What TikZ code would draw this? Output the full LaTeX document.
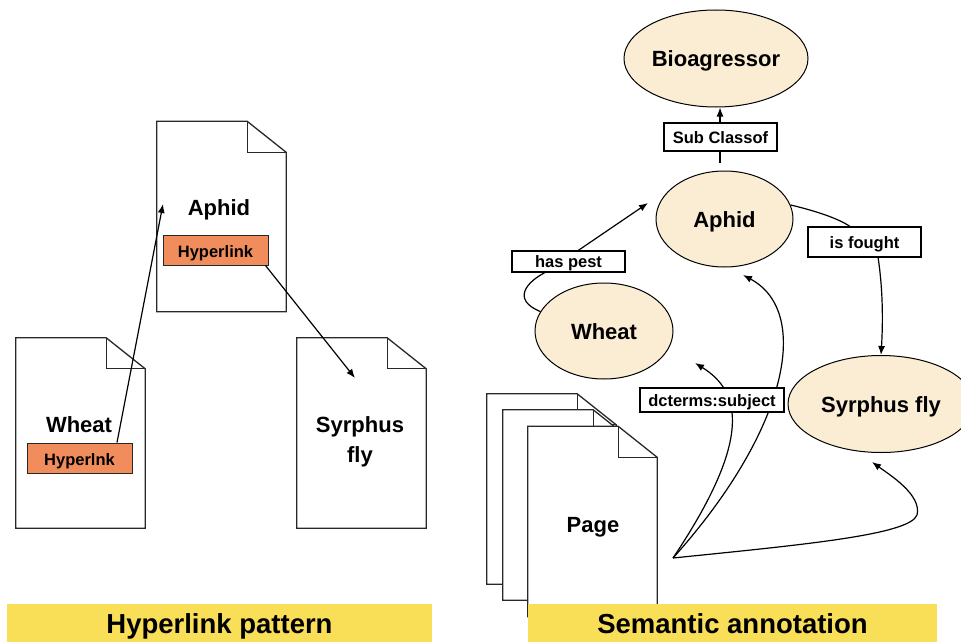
\documentclass[tikz,border=0pt]{standalone}
\usepackage{fontspec}
\setmainfont{Liberation Sans}
\usetikzlibrary{arrows.meta,calc,shapes.geometric}
\definecolor{linkorange}{RGB}{241,140,92}
\definecolor{baryellow}{RGB}{249,222,87}
\definecolor{conceptfill}{RGB}{250,237,212}
\definecolor{docgray}{RGB}{40,40,40}
\newcommand\docoutline[1]{%
  \draw[docline,fill=white] (#1.north west) -- ($(#1.north east)+(-39,0)$) -- ($(#1.north east)+(0,31)$) -- (#1.south east) -- (#1.south west) -- cycle;
  \draw[docline] ($(#1.north east)+(-39,0)$) -- ($(#1.north east)+(-39,31)$) -- ($(#1.north east)+(0,31)$);}
\tikzset{
  docline/.style={draw=docgray,line width=1.3pt},
  docnode/.style={draw=none,inner sep=0pt,minimum width=129pt,minimum height=190pt},
  doctext/.style={anchor=base,font=\fontsize{22}{26}\selectfont\bfseries,align=center},
  linkbox/.style={draw=docgray,line width=1pt,fill=linkorange,inner sep=0pt,minimum width=105pt,minimum height=30pt,font=\fontsize{16.5}{19}\selectfont\bfseries,text height=16pt,text depth=2pt},
  concept/.style={ellipse,draw=black,line width=1pt,fill=conceptfill,inner sep=0pt,font=\fontsize{22}{26}\selectfont\bfseries,text height=18pt,text depth=2pt},
  relbox/.style={draw=black,line width=1.2pt,fill=white,inner sep=0pt,minimum height=24pt,font=\fontsize{16.5}{19}\selectfont\bfseries,text height=14pt,text depth=2pt},
  conn/.style={draw=black,line width=1.2pt,-{Latex[length=9pt,width=7pt]}},
  barbox/.style={fill=baryellow,draw=none,inner sep=0pt,minimum height=38pt,font=\fontsize{27.5}{32}\selectfont\bfseries,text height=22pt,text depth=2pt},
}
\begin{document}
\begin{tikzpicture}[x=1pt,y=-1pt]
\useasboundingbox (0,0) rectangle (961,642);
% ---------------- left: hyperlink pattern ----------------
\node[docnode] (aphidDoc) at (221.5,216.5) {};
\docoutline{aphidDoc}
\node[docnode] (wheatDoc) at (80.5,433) {};
\docoutline{wheatDoc}
\node[docnode] (syrphusDoc) at (361.5,433) {};
\docoutline{syrphusDoc}
\node[doctext] (aphidTxt) at (219,215) {Aphid};
\node[doctext] (wheatTxt) at (79,432) {Wheat};
\node[doctext] (syrphusTxt) at (360,432) {Syrphus};
\node[doctext] (flyTxt) at (360,462) {fly};
\node[linkbox] (linkA) at (215.5,250) {Hyperlink};
\node[linkbox] (linkW) at (79.5,458) {Hyperlnk};
\coordinate (tipA) at (163,204);
\coordinate (tipS) at (355,378);
\draw[conn] ([xshift=37.5]linkW.north) -- (tipA);
\draw[conn] ([xshift=-3]linkA.south east) -- (tipS);
\node[barbox,minimum width=425pt] (barL) at (219.5,623) {Hyperlink pattern};
% ---------------- right: semantic annotation ----------------
\node[concept,minimum width=184pt,minimum height=97pt] (bio) at (716,58.5) {Bioagressor};
\node[concept,minimum width=137pt,minimum height=96pt] (aphid) at (724.5,219) {Aphid};
\node[concept,minimum width=138pt,minimum height=96pt] (wheat) at (604,331) {Wheat};
\node[concept,minimum width=186pt,minimum height=97pt] (syrphus) at (881,404) {Syrphus fly};
% page stack
\node[docnode] (page1) at (551.5,489) {};
\docoutline{page1}
\node[docnode] (page2) at (567.5,505) {};
\docoutline{page2}
\node[docnode] (page3) at (592.5,521.5) {};
\docoutline{page3}
\node[doctext] (pageTxt) at (593,532) {Page};
\coordinate (P) at (673,558);
% connectors
\draw[conn] ([xshift=-4.5,yshift=8]aphid.north) -- ([xshift=4]bio.south);
\coordinate (hpTip) at (648,203);
\draw[conn] (wheat.163) .. controls (512,300) and (525,282) .. (548,271) -- (hpTip);
\draw[conn] (aphid.12) .. controls (820,212) and (842,220) .. (852,228) -- (878,257) .. controls (883,290) and (883,322) .. (syrphus.north);
\coordinate (wheatTip) at (695,363);
\coordinate (aphidTip) at (743,275);
\coordinate (syrphusTip) at (872,462);
\draw[conn] (P) .. controls (752,440) and (742,392) .. (wheatTip);
\draw[conn] (P) .. controls (788,430) and (812,312) .. (aphidTip);
\draw[conn] (P) .. controls (800,545) and (910,535) .. (917,515) .. controls (922,495) and (890,475) .. (syrphusTip);
% relation labels
\node[relbox,minimum width=113pt,minimum height=28pt] (subclass) at (720.5,137) {Sub Classof};
\node[relbox,minimum width=113pt,minimum height=21pt] (haspest) at (568.5,261.5) {has pest};
\node[relbox,minimum width=113pt,minimum height=30pt] (isfought) at (864.5,242) {is fought};
\node[relbox,minimum width=144pt,minimum height=24pt] (dcterms) at (712,400) {dcterms:subject};
\node[barbox,minimum width=409pt] (barR) at (732.5,623) {Semantic annotation};
\end{tikzpicture}
\end{document}
